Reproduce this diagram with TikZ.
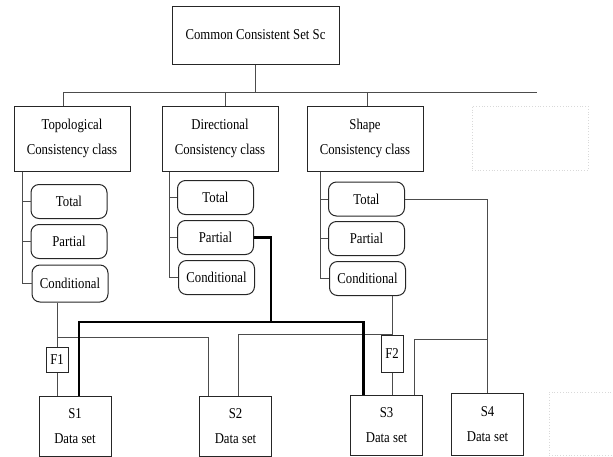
\documentclass[tikz,border=0pt]{standalone}
\usepackage{fontspec}
\setmainfont{Liberation Serif}[FakeStretch=0.85]

\begin{document}
\begin{tikzpicture}[
  x=1pt, y=-1pt,
  font=\fontsize{15}{25}\selectfont,
  caja/.style={draw=black!85, line width=1pt, inner sep=0pt, align=center},
  clase/.style={caja, minimum width=116pt, minimum height=65pt},
  sub/.style={caja, rounded corners=8pt, minimum width=76pt, minimum height=34pt},
  filtro/.style={caja, minimum width=22pt},
  datos/.style={caja, minimum width=72pt, minimum height=60pt},
  vacio/.style={draw=black!15, dotted, line width=0.8pt, inner sep=0pt},
  linea/.style={draw=black!70, line width=0.9pt},
  gruesa/.style={draw=black, line width=2.4pt}
]
  \useasboundingbox (0,0) rectangle (613,456);

  % Conjunto comun
  \node[caja, minimum width=167pt, minimum height=58pt] (sc) at (255.5,35) {Common Consistent Set Sc};

  % Clases de consistencia
  \node[clase] (topo) at (72,138.5) {Topological\\Consistency class};
  \node[clase] (dir) at (220,138.5) {Directional\\Consistency class};
  \node[clase] (shape) at (365,138.5) {Shape\\Consistency class};
  \node[vacio, minimum width=116pt, minimum height=64pt] (vacio1) at (530,138) {};

  % Subclases
  \node[sub] (tTot) at (69,201.5) {Total};
  \node[sub] (tPar) at (69,241.5) {Partial};
  \node[sub, minimum height=37pt] (tCon) at (70,283.5) {Conditional};
  \node[sub] (dTot) at (215.5,197.5) {Total};
  \node[sub] (dPar) at (215.5,237.5) {Partial};
  \node[sub] (dCon) at (216.5,277.5) {Conditional};
  \node[sub] (sTot) at (366.5,199) {Total};
  \node[sub] (sPar) at (366.5,238.5) {Partial};
  \node[sub] (sCon) at (367.5,278.5) {Conditional};

  % Filtros y conjuntos de datos
  \node[filtro, minimum height=25pt] (f1) at (57,359.5) {F1};
  \node[filtro, minimum height=37pt] (f2) at (392,353.5) {F2};
  \node[datos] (s1) at (75,426) {S1\\Data set};
  \node[datos] (s2) at (235.5,426) {S2\\Data set};
  \node[datos] (s3) at (386.5,425) {S3\\Data set};
  \node[datos, minimum height=62pt] (s4) at (487.5,424) {S4\\Data set};
  \node[vacio, minimum width=64pt, minimum height=63pt] (vacio2) at (581,423.5) {};

  % Arbol superior
  \coordinate (bus) at (sc.south |- 0,92);
  \coordinate (busL) at (63,92);
  \coordinate (busR) at (537,92);
  \coordinate (busD) at (225,92);
  \coordinate (busS) at (367,92);
  \draw[linea] (sc) -- (bus);
  \draw[linea] (busL) -- (busR);
  \draw[linea] (busL) -- (topo.north -| busL);
  \draw[linea] (busD) -- (dir.north -| busD);
  \draw[linea] (busS) -- (shape.north -| busS);

  % Ramas de cada clase
  \foreach \c/\n in {topo/t, dir/d, shape/s} {
    \draw[linea] (\n Tot.west |- \c.south) ++(-8,0) |- (\n Con.west);
    \draw[linea] (\n Tot.west) -- ++(-8,0);
    \draw[linea] (\n Par.west) -- ++(-8,0);
  }

  % Conexiones a los datos
  \coordinate (jT) at (f1.north |- 0,337);
  \coordinate (jD) at (271,322);
  \coordinate (jS) at (s4.north |- 0,339);
  \draw[linea] (f1.north |- tCon.south) -- (f1.north);
  \draw[linea] (f1.south) -- (f1.south |- s1.north);
  \draw[linea] (jT) -| ([xshift=-27pt]s2.north);
  \draw[linea] ([xshift=3pt]s2.north) |- (f2.north);
  \draw[linea] (f2.north |- sCon.south) -- (f2.north);
  \draw[linea] (f2.south) -- (f2.south |- s3.north);
  \draw[linea] (sTot.east) -| (s4.north);
  \draw[linea] ([xshift=28pt]s3.north) |- (jS);
  \draw[gruesa] (dPar.east) -| (jD);
  \draw[gruesa] ([xshift=4pt]s1.north) |- (jD) -| ([xshift=-23pt]s3.north);
\end{tikzpicture}
\end{document}
